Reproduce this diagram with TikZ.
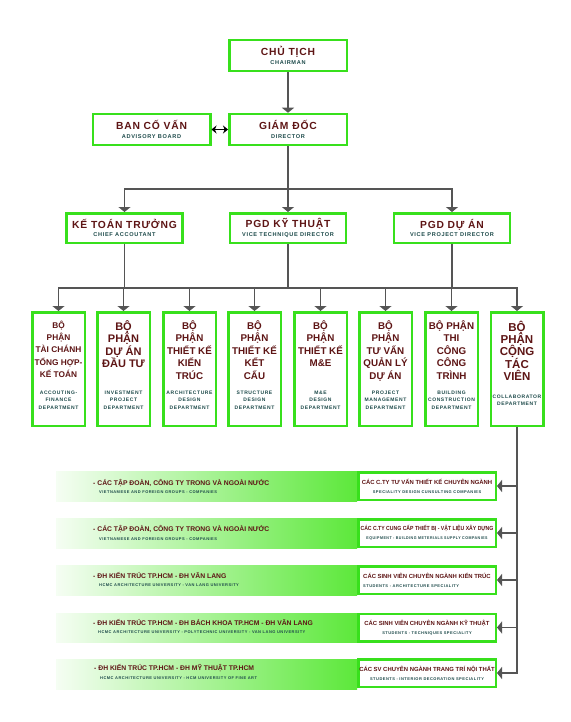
\documentclass[tikz,border=0pt]{standalone}
\usepackage{fontspec}
\setmainfont{Liberation Sans}
\newfontfamily\wideface{Liberation Sans}[LetterSpace=8]
\newfontfamily\subface{Liberation Sans}[LetterSpace=12]
\usetikzlibrary{arrows.meta}

\definecolor{boxgreen}{HTML}{38E01C}
\definecolor{ttlred}{HTML}{5E1515}
\definecolor{subteal}{HTML}{1E4B4B}
\definecolor{linegray}{HTML}{555555}
\definecolor{bandgreen}{HTML}{5CE83A}

\newcommand\vnhead{\wideface\bfseries\color{ttlred}\fontsize{10.3}{8.5}\selectfont}
\newcommand\enhead{\subface\bfseries\color{subteal}\fontsize{5.6}{6}\selectfont}
\newcommand\rowhead{\bfseries\color{ttlred}\fontsize{5.9}{6}\selectfont}
\newcommand\rowsub{\subface\bfseries\color{subteal}\fontsize{4}{5}\selectfont}

\tikzset{
  box/.style={draw=boxgreen, line width=2.5pt, fill=white, inner sep=0pt, align=center,
    font=\fontsize{10}{8.5}\selectfont},
  topbox/.style={box, minimum width=117.5pt, minimum height=31pt},
  midbox/.style={box, minimum width=116pt, minimum height=29.5pt},
  depbox/.style={box, minimum width=52.5pt, minimum height=113.5pt},
  rowbox/.style={box, minimum width=137.5pt, minimum height=27.5pt, font=\fontsize{6}{9}\selectfont},
  deptitle/.style={inner sep=0pt, align=center, text=ttlred},
  depsub/.style={inner sep=0pt, align=center, text=subteal, font=\subface\bfseries\fontsize{5}{7.3}\selectfont},
  bandhead/.style={inner sep=0pt, anchor=base west, text=ttlred, font=\bfseries\fontsize{6.8}{7}\selectfont},
  bandsub/.style={inner sep=0pt, anchor=base west, text=subteal, font=\subface\bfseries\fontsize{4}{5}\selectfont},
  conn/.style={draw=linegray, line width=1.6pt},
  arr/.style={conn, -{Triangle[width=12pt,length=5pt]}},
}

\begin{document}
\begin{tikzpicture}[x=1pt, y=-1pt]
\useasboundingbox (0,0) rectangle (570,722);
% Board level
\node[topbox] (chair) at (288,55.5) {{\vnhead CHỦ TỊCH}\\{\enhead CHAIRMAN}};
\node[topbox] (dir) at (288,129.5) {{\vnhead GIÁM ĐỐC}\\{\enhead DIRECTOR}};
\node[topbox] (adv) at (151.5,129.5) {{\vnhead BAN CỐ VẤN}\\{\enhead ADVISORY BOARD}};
\draw[arr] (chair) -- (dir);
\draw[line width=1.3pt, {Stealth[width=8pt,length=5pt]}-{Stealth[width=8pt,length=5pt]}] (adv.east) -- (dir.west);
% Vice directors
\node[midbox] (acc) at (124.5,228) {{\vnhead KẾ TOÁN TRƯỞNG}\\{\enhead CHIEF ACCOUTANT}};
\node[midbox] (vpt) at (288,228) {{\vnhead PGD KỸ THUẬT}\\{\enhead VICE TECHNIQUE DIRECTOR}};
\node[midbox] (vpd) at (452,228) {{\vnhead PGD DỰ ÁN}\\{\enhead VICE PROJECT DIRECTOR}};
\coordinate (j1) at (288,189);
\draw[arr] (dir) -- (vpt);
\draw[arr] (j1) -| (acc.north);
\draw[arr] (j1) -| (vpd.north);
% Departments
\coordinate (j2) at (288,288);
\foreach \v in {acc,vpt,vpd}
  \draw[conn] (\v.south) -- (\v.south |- j2);
\foreach \n/\x/\s/\t/\e in {
  1/58.5/8.3/{BỘ\\PHẬN\\TÀI CHÁNH\\TỔNG HỢP-\\KẾ TOÁN}/{ACCOUTING-\\FINANCE\\DEPARTMENT},
  2/123.5/11/{BỘ\\PHẬN\\DỰ ÁN\\ĐẦU TƯ}/{INVESTMENT\\PROJECT\\DEPARTMENT},
  3/189.5/9.8/{BỘ\\PHẬN\\THIẾT KẾ\\KIẾN\\TRÚC}/{ARCHITECTURE\\DESIGN\\DEPARTMENT},
  4/254.5/9.8/{BỘ\\PHẬN\\THIẾT KẾ\\KẾT\\CẤU}/{STRUCTURE\\DESIGN\\DEPARTMENT},
  5/320.5/9.8/{BỘ\\PHẬN\\THIẾT KẾ\\M\&E}/{M\&E\\DESIGN\\DEPARTMENT},
  6/385.5/9.8/{BỘ\\PHẬN\\TƯ VẤN\\QUẢN LÝ\\DỰ ÁN}/{PROJECT\\MANAGEMENT\\DEPARTMENT},
  7/451.5/9.8/{BỘ PHẬN\\THI\\CÔNG\\CÔNG\\TRÌNH}/{BUILDING\\CONSTRUCTION\\DEPARTMENT},
  8/517/11.5/{BỘ\\PHẬN\\CỘNG\\TÁC\\VIÊN}/{COLLABORATOR\\DEPARTMENT}} {
  \node[depbox] (dep\n) at (\x,369) {};
  \node[deptitle, anchor=north, font=\bfseries\fontsize{\s}{12.4}\selectfont] (dept\n) at ([yshift=-9.5pt]dep\n.north) {\t};
  \node[depsub] (deps\n) at (\x,400) {\e};
  \draw[arr] (j2) -| (dep\n.north);
}
% Partner rows
\shade[left color=bandgreen!6, right color=bandgreen] (56,471) rectangle (357,501);
\node[bandhead] (l1) at (93,485.4) {- CÁC TẬP ĐOÀN, CÔNG TY TRONG VÀ NGOÀI NƯỚC};
\node[bandsub] (l1e) at (99,493.5) {VIETNAMESE AND FOREIGN GROUPS - COMPANIES};
\node[rowbox] (r1) at (427,486) {{\rowhead CÁC C.TY TƯ VẤN THIẾT KẾ CHUYÊN NGÀNH}\\{\rowsub SPECIALITY DESIGN CUNSULTING COMPANIES}};

\shade[left color=bandgreen!6, right color=bandgreen] (56,518) rectangle (357,548);
\node[bandhead] (l2) at (93,531.7) {- CÁC TẬP ĐOÀN, CÔNG TY TRONG VÀ NGOÀI NƯỚC};
\node[bandsub] (l2e) at (99,540.5) {VIETNAMESE AND FOREIGN GROUPS - COMPANIES};
\node[rowbox] (r2) at (427,533) {{\rowhead\addfontfeature{FakeStretch=0.87} CÁC C.TY CUNG CẤP THIẾT BỊ - VẬT LIỆU XÂY DỰNG}\\{\rowsub\addfontfeature{FakeStretch=0.9} EQUIPMENT - BUILDING METERIALS SUPPLY COMPANIES}};

\shade[left color=bandgreen!6, right color=bandgreen] (56,565) rectangle (357,595);
\node[bandhead] (l3) at (93,578.4) {- ĐH KIẾN TRÚC TP.HCM - ĐH VĂN LANG};
\node[bandsub] (l3e) at (99,586.5) {HCMC ARCHITECTURE UNIVERSITY - VAN LANG UNIVERSITY};
\node[rowbox, align=left] (r3) at (427,580) {{\rowhead CÁC SINH VIÊN CHUYÊN NGÀNH KIẾN TRÚC}\\{\rowsub STUDENTS - ARCHITECTURE SPECIALITY}};

\shade[left color=bandgreen!6, right color=bandgreen] (56,613) rectangle (357,642);
\node[bandhead] (l4) at (93,625) {- ĐH KIẾN TRÚC TP.HCM - ĐH BÁCH KHOA TP.HCM - ĐH VĂN LANG};
\node[bandsub] (l4e) at (98,633.2) {HCMC ARCHITECTURE UNIVERSITY - POLYTECHNIC UNIVERSITY - VAN LANG UNIVERSITY};
\node[rowbox] (r4) at (427,627.5) {{\rowhead CÁC SINH VIÊN CHUYÊN NGÀNH KỸ THUẬT}\\{\rowsub STUDENTS - TECHNIQUES SPECIALITY}};

\shade[left color=bandgreen!6, right color=bandgreen] (56,659) rectangle (357,689);
\node[bandhead] (l5) at (94,670.4) {- ĐH KIẾN TRÚC TP.HCM - ĐH MỸ THUẬT TP.HCM};
\node[bandsub] (l5e) at (100,679.2) {HCMC ARCHITECTURE UNIVERSITY - HCM UNIVERSITY OF FINE ART};
\node[rowbox] (r5) at (427,673) {{\rowhead CÁC SV CHUYÊN NGÀNH TRANG TRÍ NỘI THẤT}\\{\rowsub STUDENTS - INTERIOR DECORATION SPECIALITY}};
% Collaborator trunk
\draw[arr] (dep8.south) |- (r5.east);
\foreach \r in {r1,r2,r3,r4}
  \draw[arr] (dep8.south |- \r.east) -- (\r.east);
\end{tikzpicture}
\end{document}
